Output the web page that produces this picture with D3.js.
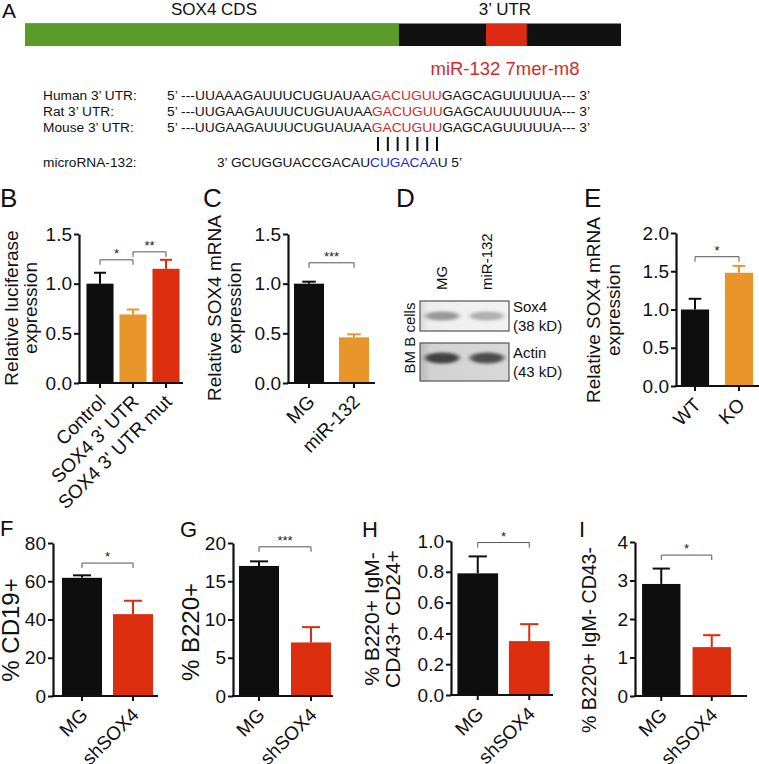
<!DOCTYPE html>
<html><head><meta charset="utf-8">
<script src="https://cdn.jsdelivr.net/npm/d3@7"></script>
<style>
body{margin:0;background:#fff}
svg{display:block}
text{font-family:"Liberation Sans",Arial,Helvetica,sans-serif;fill:#111}
</style>
</head><body>
<script>
// ================= DATA =================
// Panel A: gene map (fractions of total transcript length) and sequences
const geneLabels = ["SOX4 CDS", "3’ UTR"];
const geneCdsEnd = 0.6275;          // end of CDS
const seedSite = [0.7735, 0.842];   // miR-132 7mer-m8 site in 3' UTR
const siteLabel = "miR-132 7mer-m8";
const utrSpecies = ["Human 3’ UTR:", "Rat 3’ UTR:", "Mouse 3’ UTR:"];
const utrPrefix = ["5’ ---UUAAAGAUUUCUGUAUAA", "5’ ---UUGAAGAUUUCUGUAUAA", "5’ ---UUGAAGAUUUCUGUAUAA"];
const utrSeed = ["GACUGUU", "GACUGUU", "GACUGUU"];
const utrSuffix = ["GAGCAGUUUUUA--- 3’", "GAGCAUUUUUUA--- 3’", "GAGCAGUUUUUA--- 3’"];
const mirName = "microRNA-132:";
const mirPrefix = "3’ GCUGGUACCGACAU", mirSeed = "CUGACAA", mirSuffix = "U 5’";

// Panel B
const bCats = ["Control", "SOX4 3' UTR", "SOX4 3' UTR mut"];
const bVals = [1.00, 0.69, 1.15];
const bErrs = [0.11, 0.05, 0.09];
const bTicks = [0, 0.5, 1.0, 1.5];
const bSig = [{a: 0, b: 1, y: 1.24, t: "*"}, {a: 1, b: 2, y: 1.32, t: "**"}];
// Panel C
const cCats = ["MG", "miR-132"];
const cVals = [1.00, 0.46];
const cErrs = [0.02, 0.03];
const cTicks = [0, 0.5, 1.0, 1.5];
const cSig = [{a: 0, b: 1, y: 1.21, t: "***"}];
// Panel D (western blot band intensities, 0-1)
const dLanes = ["MG", "miR-132"];
const dSox4 = [0.50, 0.42];
const dActin = [0.80, 0.76];
const dBlots = ["Sox4", "Actin"];
const dSizes = ["(38 kD)", "(43 kD)"];
// Panel E
const eCats = ["WT", "KO"];
const eVals = [1.00, 1.48];
const eErrs = [0.14, 0.09];
const eTicks = [0, 0.5, 1.0, 1.5, 2.0];
const eSig = [{a: 0, b: 1, y: 1.69, t: "*"}];
// Panels F-I
const shCats = ["MG", "shSOX4"];
const fVals = [61.8, 42.8], fErrs = [1.3, 7.0], fTicks = [0, 20, 40, 60, 80];
const fSig = [{a: 0, b: 1, y: 69.5, t: "*"}];
const gVals = [17.0, 7.0], gErrs = [0.6, 2.0], gTicks = [0, 5, 10, 15, 20];
const gSig = [{a: 0, b: 1, y: 19.5, t: "***"}];
const hVals = [0.79, 0.35], hErrs = [0.11, 0.11], hTicks = [0, 0.2, 0.4, 0.6, 0.8, 1.0];
const hSig = [{a: 0, b: 1, y: 0.99, t: "*"}];
const iVals = [2.91, 1.27], iErrs = [0.40, 0.31], iTicks = [0, 1, 2, 3, 4];
const iSig = [{a: 0, b: 1, y: 3.66, t: "*"}];

// ================= STYLE =================
const BLACK = "#0e0e0e", ORANGE = "#e8962a", RED = "#dc2e0e", GREEN = "#5a9a28";
const SEQRED = "#d42a2a", BLUE = "#2626df";

const W = 759, H = 764;
const svg = d3.select("body").append("svg").attr("width", W).attr("height", H);

// blur filter for blot bands
const defs = svg.append("defs");
defs.append("filter").attr("id", "blur").attr("x", "-50%").attr("y", "-100%").attr("width", "200%").attr("height", "300%")
  .append("feGaussianBlur").attr("stdDeviation", "2.6 1.8");
const gradA = defs.append("linearGradient").attr("id", "bg1").attr("x1", 0).attr("x2", 1);
gradA.append("stop").attr("offset", 0).attr("stop-color", "#d8d8d8");
gradA.append("stop").attr("offset", 0.1).attr("stop-color", "#eeeeee");
gradA.append("stop").attr("offset", 1).attr("stop-color", "#f2f2f2");
const gradB = defs.append("linearGradient").attr("id", "bg2").attr("x1", 0).attr("x2", 1);
gradB.append("stop").attr("offset", 0).attr("stop-color", "#b8b8b8");
gradB.append("stop").attr("offset", 0.12).attr("stop-color", "#d2d2d2");
gradB.append("stop").attr("offset", 1).attr("stop-color", "#d8d8d8");

function panelLabel(t, x, y, size) {
  svg.append("text").attr("x", x).attr("y", y).attr("font-size", size).text(t);
}

// ================= PANEL A =================
panelLabel("A", 2, 18, 21);
const gx = d3.scaleLinear().domain([0, 1]).range([25, 621]);
const gene = svg.append("g");
gene.append("rect").attr("x", gx(0)).attr("y", 23).attr("width", gx(geneCdsEnd) - gx(0)).attr("height", 23).attr("fill", GREEN);
gene.append("rect").attr("x", gx(geneCdsEnd)).attr("y", 23).attr("width", gx(1) - gx(geneCdsEnd)).attr("height", 23).attr("fill", "#111");
gene.append("rect").attr("x", gx(seedSite[0])).attr("y", 23).attr("width", gx(seedSite[1]) - gx(seedSite[0])).attr("height", 23).attr("fill", "#dd2a12");
gene.append("line").attr("x1", gx(0)).attr("x2", gx(1)).attr("y1", 23.5).attr("y2", 23.5).attr("stroke", "#8a8a8a").attr("stroke-width", 1);
gene.append("text").attr("x", 214).attr("y", 15).attr("text-anchor", "middle").attr("font-size", 17).text(geneLabels[0]);
gene.append("text").attr("x", 505).attr("y", 15).attr("text-anchor", "middle").attr("font-size", 17).text(geneLabels[1]);
gene.append("text").attr("x", 505).attr("y", 74.5).attr("text-anchor", "middle").attr("font-size", 18.5).style("fill", SEQRED).text(siteLabel);

const seqG = svg.append("g").attr("font-size", 13.7);
const rowY = [100, 116, 132];
utrSpecies.forEach((s, i) => {
  seqG.append("text").attr("x", 43).attr("y", rowY[i]).text(s);
  const t = seqG.append("text").attr("x", 167).attr("y", rowY[i]).attr("textLength", 423).attr("lengthAdjust", "spacingAndGlyphs");
  t.append("tspan").text(utrPrefix[i]);
  t.append("tspan").style("fill", SEQRED).text(utrSeed[i]);
  t.append("tspan").text(utrSuffix[i]);
});
// base-pairing bars, one per seed nucleotide
const pairX = d3.scaleLinear().domain([0, utrSeed[0].length - 1]).range([378, 437]);
seqG.selectAll("line.pair").data(d3.range(utrSeed[0].length)).join("line")
  .attr("x1", d => pairX(d)).attr("x2", d => pairX(d)).attr("y1", 137).attr("y2", 151)
  .attr("stroke", "#111").attr("stroke-width", 2);
seqG.append("text").attr("x", 43).attr("y", 166.5).text(mirName);
const mt = seqG.append("text").attr("x", 217).attr("y", 166.5).attr("textLength", 245).attr("lengthAdjust", "spacingAndGlyphs");
mt.append("tspan").text(mirPrefix);
mt.append("tspan").style("fill", BLUE).text(mirSeed);
mt.append("tspan").text(mirSuffix);

// ================= BAR PANEL HELPER =================
function barPanel(o) {
  const g = svg.append("g");
  const x = d3.scaleBand().domain(o.cats).range(o.band).paddingInner(o.pad).paddingOuter(o.pad / 2);
  const y = d3.scaleLinear().domain([0, o.max]).range([o.y0, o.y1]);
  const cx = i => x(o.cats[i]) + x.bandwidth() / 2;
  // bars
  g.selectAll("rect.bar").data(o.vals).join("rect").attr("class", "bar")
    .attr("x", (d, i) => x(o.cats[i])).attr("y", d => y(d))
    .attr("width", x.bandwidth()).attr("height", d => y(0) - y(d))
    .attr("fill", (d, i) => o.colors[i]);
  // error bars (upper only)
  const capW = x.bandwidth() * 0.45;
  o.vals.forEach((v, i) => {
    const c = cx(i), top = y(v + o.errs[i]);
    g.append("line").attr("x1", c).attr("x2", c).attr("y1", y(v)).attr("y2", top).attr("stroke", o.colors[i]).attr("stroke-width", 2);
    g.append("line").attr("x1", c - capW / 2).attr("x2", c + capW / 2).attr("y1", top).attr("y2", top).attr("stroke", o.colors[i]).attr("stroke-width", 2);
  });
  // y axis
  const ya = g.append("g").attr("transform", `translate(${o.ax},0)`)
    .call(d3.axisLeft(y).tickValues(o.ticks).tickFormat(o.fmt).tickSize(5).tickSizeOuter(0).tickPadding(2));
  ya.select(".domain").attr("stroke", "#111").attr("stroke-width", 2.2);
  ya.selectAll(".tick line").attr("stroke", "#111").attr("stroke-width", 2);
  ya.selectAll(".tick text").attr("font-size", o.tickFs || 19).attr("font-family", "Liberation Sans, Arial, sans-serif").style("fill", "#111");
  // x axis line + ticks
  g.append("line").attr("x1", o.ax - 1).attr("x2", o.axEnd).attr("y1", y(0)).attr("y2", y(0)).attr("stroke", "#111").attr("stroke-width", 2.2);
  o.cats.forEach((c, i) => {
    g.append("line").attr("x1", cx(i)).attr("x2", cx(i)).attr("y1", y(0)).attr("y2", y(0) + 5).attr("stroke", "#111").attr("stroke-width", 2);
    g.append("text").attr("transform", `translate(${cx(i) + 7},${y(0) + 20}) rotate(-45)`)
      .attr("text-anchor", "end").attr("font-size", o.xFs || 19).text(c);
  });
  // significance brackets
  o.sig.forEach(s => {
    const yy = y(s.y);
    g.append("path").attr("d", `M${cx(s.a)},${yy + 5}V${yy}H${cx(s.b)}V${yy + 5}`)
      .attr("fill", "none").attr("stroke", "#555").attr("stroke-width", 1);
    g.append("text").attr("x", (cx(s.a) + cx(s.b)) / 2).attr("y", yy - 2).attr("text-anchor", "middle")
      .attr("font-size", 13).style("fill", "#222").text(s.t);
  });
  // y label lines
  o.ylab.forEach((l, i) => {
    g.append("text").attr("transform", `translate(${o.ylx[i]},${o.yly}) rotate(-90)`)
      .attr("text-anchor", "middle").attr("dy", "0.35em").attr("font-size", o.yFs).text(l);
  });
}

const f1 = d3.format(".1f"), f0 = d3.format("d");

// ================= PANEL B =================
panelLabel("B", 0, 207, 26);
barPanel({cats: bCats, vals: bVals, errs: bErrs, colors: [BLACK, ORANGE, RED], ticks: bTicks, fmt: f1,
  max: 1.5, y0: 383, y1: 234, ax: 79, axEnd: 183, band: [83.5, 182.5], pad: 0.18, sig: bSig,
  ylab: ["Relative luciferase", "expression"], ylx: [11, 30], yly: 308, yFs: 19});

// ================= PANEL C =================
panelLabel("C", 203, 207, 26);
barPanel({cats: cCats, vals: cVals, errs: cErrs, colors: [BLACK, ORANGE], ticks: cTicks, fmt: f1,
  max: 1.5, y0: 383, y1: 234, ax: 288, axEnd: 375, band: [286.5, 376.5], pad: 0.333, sig: cSig,
  ylab: ["Relative SOX4 mRNA", "expression"], ylx: [214, 234], yly: 308, yFs: 19});

// ================= PANEL D (western blot) =================
panelLabel("D", 396, 207, 26);
const dx = d3.scaleBand().domain(dLanes).range([421, 508]).paddingInner(0.1).paddingOuter(0.02);
const dg = svg.append("g");
const boxes = [{y: 301, h: 30, fill: "url(#bg1)", vals: dSox4, ry: 4.5, cy: 316},
               {y: 343, h: 38, fill: "url(#bg2)", vals: dActin, ry: 5.5, cy: 358}];
boxes.forEach((b, k) => {
  dg.append("rect").attr("x", 420).attr("y", b.y).attr("width", 89).attr("height", b.h).attr("fill", b.fill)
    .attr("stroke", "#555").attr("stroke-width", 1.2);
  dg.selectAll(null).data(b.vals).join("ellipse")
    .attr("cx", (d, i) => dx(dLanes[i]) + dx.bandwidth() / 2).attr("cy", b.cy)
    .attr("rx", dx.bandwidth() / 2 - 3).attr("ry", b.ry)
    .attr("fill", d => d3.interpolateGreys(d)).attr("filter", "url(#blur)");
  dg.append("text").attr("x", 513).attr("y", b.y + (k === 0 ? 11 : 15)).attr("font-size", 15).text(dBlots[k]);
  dg.append("text").attr("x", 513).attr("y", b.y + (k === 0 ? 30 : 34)).attr("font-size", 15).text(dSizes[k]);
});
dLanes.forEach((l, i) => {
  dg.append("text").attr("transform", `translate(${dx(l) + dx.bandwidth() / 2 + 5},290) rotate(-90)`)
    .attr("font-size", 15).text(l);
});
dg.append("text").attr("transform", `translate(410,338) rotate(-90)`).attr("text-anchor", "middle")
  .attr("dy", "0.35em").attr("font-size", 15).text("BM B cells");

// ================= PANEL E =================
panelLabel("E", 584, 207, 26);
barPanel({cats: eCats, vals: eVals, errs: eErrs, colors: [BLACK, ORANGE], ticks: eTicks, fmt: f1,
  max: 2.0, y0: 386, y1: 233, ax: 676, axEnd: 760, band: [673, 761], pad: 0.36, sig: eSig,
  ylab: ["Relative SOX4 mRNA", "expression"], ylx: [593, 613], yly: 310, yFs: 19});

// ================= PANELS F-I =================
panelLabel("F", 0, 536, 22);
barPanel({cats: shCats, vals: fVals, errs: fErrs, colors: [BLACK, RED], ticks: fTicks, fmt: f0,
  max: 80, y0: 696, y1: 543, ax: 53, axEnd: 158, band: [56.5, 158.5], pad: 0.216, sig: fSig,
  ylab: ["% CD19+"], ylx: [11], yly: 630, yFs: 24});
panelLabel("G", 180, 537, 22);
barPanel({cats: shCats, vals: gVals, errs: gErrs, colors: [BLACK, RED], ticks: gTicks, fmt: f0,
  max: 20, y0: 696, y1: 543, ax: 233, axEnd: 333, band: [233, 337], pad: 0.23, sig: gSig,
  ylab: ["% B220+"], ylx: [191], yly: 632, yFs: 24});
panelLabel("H", 362, 537, 22);
barPanel({cats: shCats, vals: hVals, errs: hErrs, colors: [BLACK, RED], ticks: hTicks, fmt: f1,
  max: 1.0, y0: 695, y1: 541, ax: 451, axEnd: 553, band: [452, 555], pad: 0.21, sig: hSig,
  ylab: ["% B220+ IgM-", "CD43+ CD24+"], ylx: [372, 393], yly: 619, yFs: 21});
panelLabel("I", 579, 537, 22);
barPanel({cats: shCats, vals: iVals, errs: iErrs, colors: [BLACK, RED], ticks: iTicks, fmt: f0,
  max: 4, y0: 696, y1: 542, ax: 635, axEnd: 747, band: [636, 737], pad: 0.24, sig: iSig,
  ylab: ["% B220+ IgM- CD43-"], ylx: [589], yly: 640, yFs: 19.5});
</script>
</body></html>
